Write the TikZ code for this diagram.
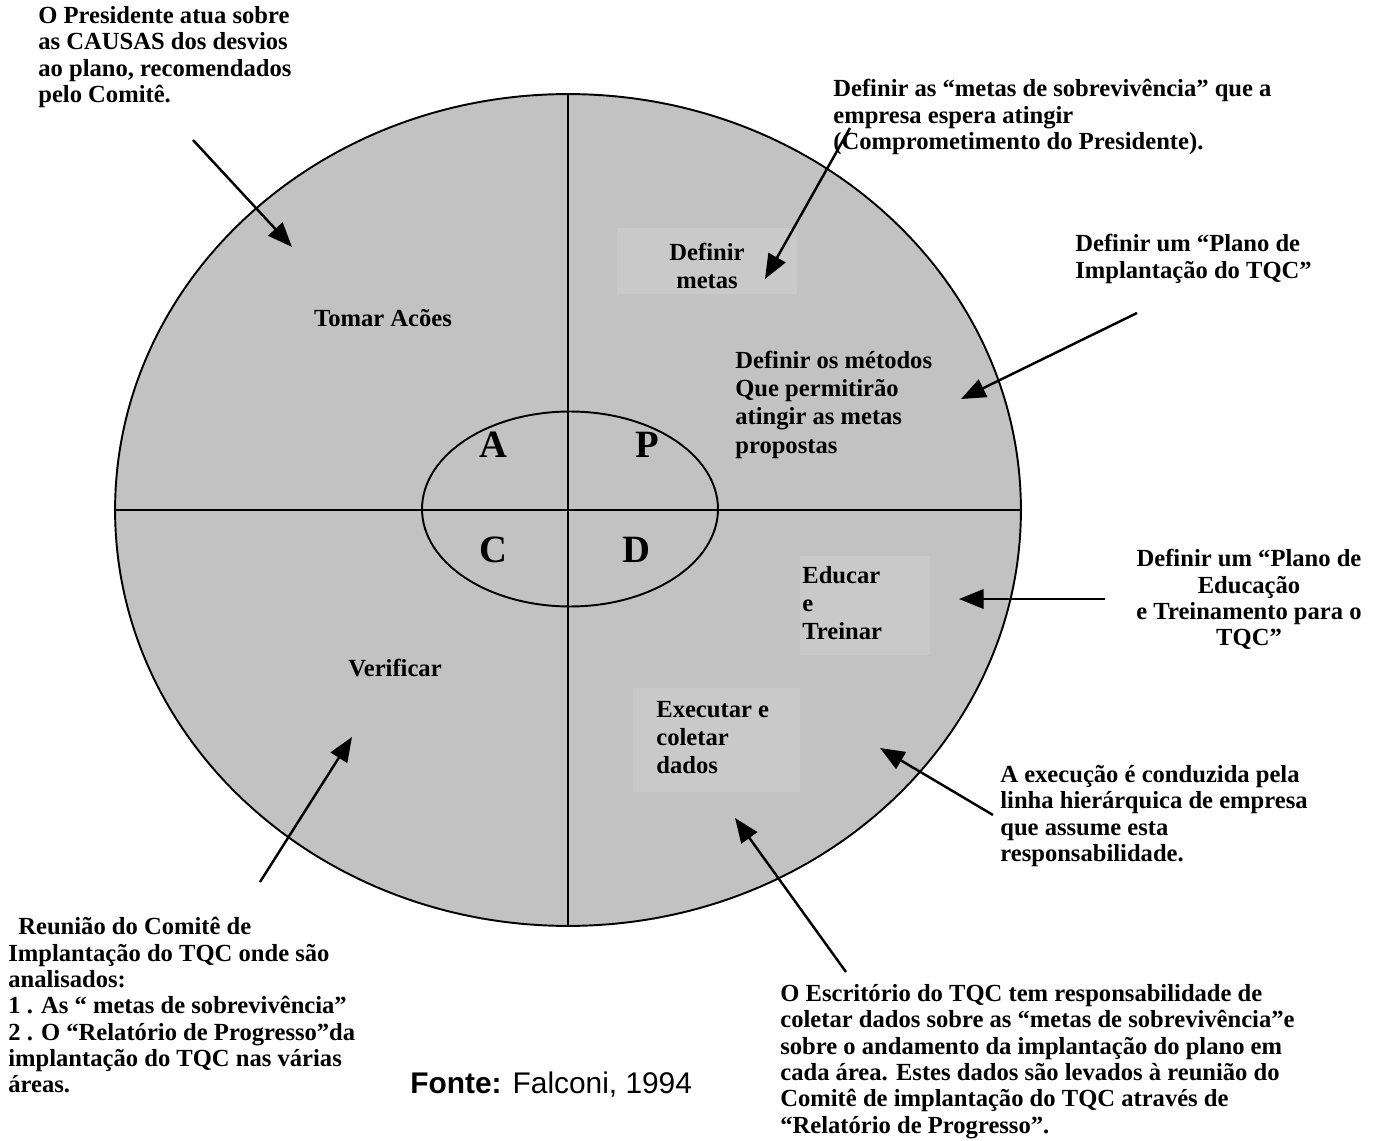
\documentclass[tikz,border=0pt]{standalone}
\usepackage{fontspec}
\setmainfont{Liberation Serif}
\newfontfamily\fontesans{Liberation Sans}
\usetikzlibrary{arrows.meta,shapes.geometric}
\begin{document}
\begin{tikzpicture}[x=0.02cm,y=-0.02cm,
  note/.style={font=\fontsize{14}{15}\selectfont\bfseries, align=left, inner sep=0pt, anchor=north west},
  inlabel/.style={font=\fontsize{14}{16}\selectfont\bfseries, align=left, inner sep=0pt},
  letter/.style={font=\fontsize{22}{24}\selectfont\bfseries, inner sep=0pt},
  pointer/.style={line width=1.4pt, -{Triangle[length=14pt,width=11pt]}},
  ring/.style={ellipse, draw, line width=1.1pt, inner sep=0pt},
  textpanel/.style={fill=black!21, draw=none}]
\useasboundingbox (0,0) rectangle (1375,1141);

% outer PDCA disc
\node[ring, fill=black!24, minimum width=18.12cm, minimum height=16.64cm] (big) at (568,510) {};
% lighter text panels behind some of the quadrant labels
\fill[textpanel] (617,228) rectangle (797,294);
\fill[textpanel] (633,688) rectangle (800,792);
\fill[textpanel] (800,556) rectangle (930,655);
\draw[line width=0.9pt] (big.north) -- (big.south);
\draw[line width=0.9pt] (big.west) -- (big.east);
% inner ellipse with the four letters
\node[ring, minimum width=5.92cm, minimum height=3.9cm] (core) at (570,509) {};

\node[letter] (A) at (493,445) {A};
\node[letter] (P) at (647,445) {P};
\node[letter] (C) at (493,550) {C};
\node[letter] (D) at (636,550) {D};

% labels inside the quadrants
\node[inlabel] (tomar) at (383,318) {Tomar Acões};
\node[inlabel, align=center] (metas) at (707,266) {Definir\\metas};
\node[inlabel, anchor=north west] (metodos) at (735,351) {Definir os métodos\\Que permitirão\\atingir as metas\\propostas};
\node[inlabel, anchor=north west] (educar) at (802,566) {Educar\\e\\Treinar};
\node[inlabel, anchor=north west] (executar) at (656,701) {Executar e\\coletar\\dados};
\node[inlabel] (verificar) at (395,668) {Verificar};

% explanatory notes around the disc
\node[note] (n1) at (38,6) {O Presidente atua sobre\\as CAUSAS dos desvios\\ao plano, recomendados\\pelo Comitê.};
\node[note] (n2) at (833,79) {Definir as “metas de sobrevivência” que a\\empresa espera atingir\\(Comprometimento do Presidente).};
\node[note] (n3) at (1075,234) {Definir um “Plano de\\Implantação do TQC”};
\node[note, anchor=north, align=center] (n4) at (1249,549) {Definir um “Plano de\\Educação\\e Treinamento para o\\TQC”};
\node[note] (n5) at (1000,765) {A execução é conduzida pela\\linha hierárquica de empresa\\que assume esta\\responsabilidade.};
\node[note] (n6) at (780,984) {O Escritório do TQC tem responsabilidade de\\coletar dados sobre as “metas de sobrevivência”e\\sobre o andamento da implantação do plano em\\cada área. Estes dados são levados à reunião do\\Comitê de implantação do TQC através de\\“Relatório de Progresso”.};
\node[note] (n7) at (8,917) {\hspace*{5.7pt}Reunião do Comitê de\\Implantação do TQC onde são\\analisados:\\1 . As “ metas de sobrevivência”\\2 . O “Relatório de Progresso”da\\implantação do TQC nas várias\\áreas.};
\node[font=\fontesans\fontsize{17}{19}\selectfont, anchor=west, inner sep=0pt] (fonte) at (410,1085) {\textbf{Fonte:} Falconi, 1994};

% arrow end points
\coordinate (s1) at (193,140);  \coordinate (t1) at (292,247);
\coordinate (s2) at (850,128);  \coordinate (t2) at (765,279);
\coordinate (s3) at (1137,313); \coordinate (t3) at (961,399);
\coordinate (s4) at (1105,599); \coordinate (t4) at (959,599);
\coordinate (s5) at (993,815);  \coordinate (t5) at (880,748);
\coordinate (s6) at (846,972);  \coordinate (t6) at (735,818);
\coordinate (s7) at (260,882);  \coordinate (t7) at (352,737);

\draw[pointer] (s1) -- (t1);
\draw[pointer] (s2) -- (t2);
\draw[pointer] (s3) -- (t3);
\draw[pointer] (s4) -- (t4);
\draw[pointer] (s5) -- (t5);
\draw[pointer] (s6) -- (t6);
\draw[pointer] (s7) -- (t7);
\end{tikzpicture}
\end{document}
